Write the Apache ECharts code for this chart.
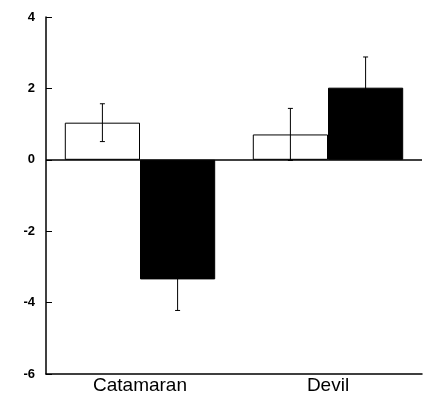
<!DOCTYPE html>
<html>
<head>
<meta charset="utf-8">
<script src="https://cdn.jsdelivr.net/npm/echarts@6/dist/echarts.min.js"></script>
<style>
  html, body { margin: 0; padding: 0; background: #fff; }
  #chart { width: 424px; height: 408px; }
</style>
</head>
<body>
<div id="chart"></div>
<script>
// Group labels along the x axis
const categories = ['Catamaran', 'Devil'];
// Open (white) bars: means and their error half-widths
const openMeans = [1.04, 0.71];
const openErrors = [0.53, 0.73];
// Filled (black) bars: means and their error half-widths
const filledMeans = [-3.35, 2.02];
const filledErrors = [0.87, 0.86];
// Value axis ticks
const yTicks = [-6, -4, -2, 0, 2, 4];

const BAR_FRACTION = 0.4; // share of each category band taken by one bar

function errorData(means, errors) {
  return means.map((m, i) => [i, m - errors[i], m + errors[i]]);
}

// Draws a vertical whisker with short caps, shifted to sit over its bar
function errorRenderer(side) {
  return function (params, api) {
    const idx = api.value(0);
    const low = api.coord([idx, api.value(1)]);
    const high = api.coord([idx, api.value(2)]);
    const band = api.size([1, 0])[0];
    const x = low[0] + side * band * BAR_FRACTION / 2;
    const cap = 2.5;
    const style = { stroke: '#000', lineWidth: 1, fill: null };
    return {
      type: 'group',
      children: [
        { type: 'line', shape: { x1: x, y1: high[1], x2: x, y2: low[1] }, style },
        { type: 'line', shape: { x1: x - cap, y1: high[1], x2: x + cap, y2: high[1] }, style },
        { type: 'line', shape: { x1: x - cap, y1: low[1], x2: x + cap, y2: low[1] }, style }
      ]
    };
  };
}

const chart = echarts.init(document.getElementById('chart'));
chart.setOption({
  animation: false,
  backgroundColor: '#fff',
  grid: { left: 46, right: 2, top: 17, bottom: 34 },
  xAxis: {
    type: 'category',
    data: categories,
    axisLine: { onZero: false, lineStyle: { color: '#000', width: 1.5 } },
    axisTick: { inside: true, length: 5, lineStyle: { color: '#000' } },
    axisLabel: {
      color: '#000',
      fontFamily: 'Liberation Sans, Arial, sans-serif',
      fontSize: 19,
      margin: 2
    }
  },
  yAxis: {
    type: 'value',
    min: yTicks[0],
    max: yTicks[yTicks.length - 1],
    interval: 2,
    splitLine: { show: false },
    axisLine: { show: true, lineStyle: { color: '#000', width: 1.5 } },
    axisTick: { show: true, inside: true, length: 6, lineStyle: { color: '#000' } },
    axisLabel: {
      color: '#000',
      fontFamily: 'Liberation Sans, Arial, sans-serif',
      fontWeight: 'bold',
      fontSize: 13,
      margin: 11
    }
  },
  series: [
    {
      type: 'bar',
      data: openMeans,
      barWidth: (BAR_FRACTION * 100) + '%',
      barGap: '0%',
      itemStyle: { color: '#fff', borderColor: '#000', borderWidth: 1 },
      markLine: {
        silent: true,
        symbol: 'none',
        label: { show: false },
        lineStyle: { color: '#000', width: 1.5, type: 'solid' },
        data: [{ yAxis: 0 }]
      }
    },
    {
      type: 'bar',
      data: filledMeans,
      barWidth: (BAR_FRACTION * 100) + '%',
      barGap: '0%',
      itemStyle: { color: '#000', borderColor: '#000', borderWidth: 1 }
    },
    {
      type: 'custom',
      data: errorData(openMeans, openErrors),
      renderItem: errorRenderer(-1),
      z: 10
    },
    {
      type: 'custom',
      data: errorData(filledMeans, filledErrors),
      renderItem: errorRenderer(1),
      z: 10
    }
  ]
});
</script>
</body>
</html>
